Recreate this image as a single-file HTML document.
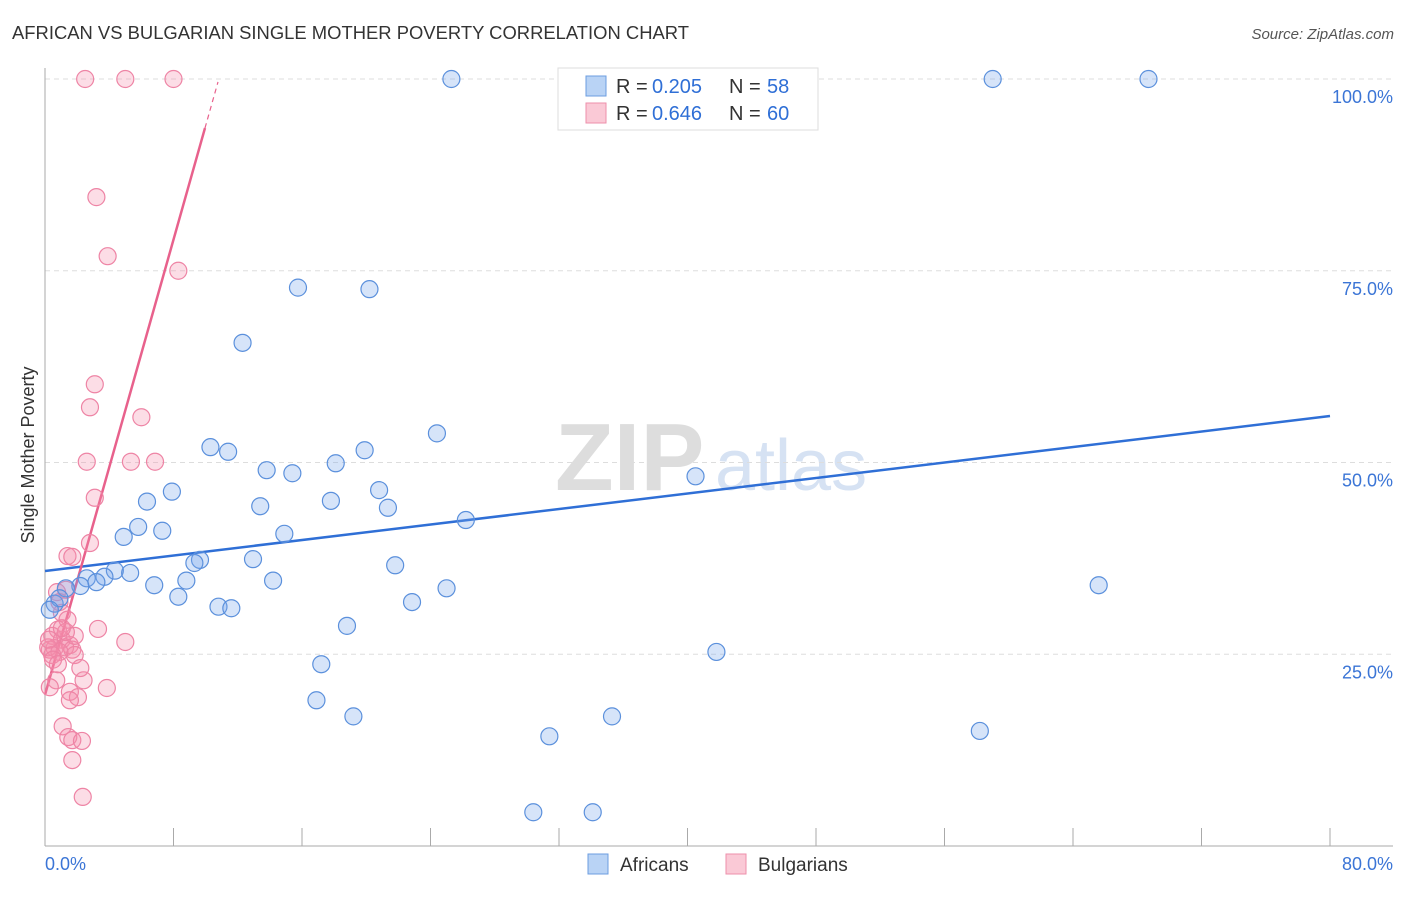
<!DOCTYPE html>
<html><head><meta charset="utf-8"><style>
body{margin:0;background:#fff;font-family:"Liberation Sans",sans-serif}
svg text{font-family:"Liberation Sans",sans-serif}
</style></head><body>
<svg width="1406" height="892" viewBox="0 0 1406 892">
<text x="12" y="39" font-size="18" fill="#333" textLength="677" lengthAdjust="spacingAndGlyphs">AFRICAN VS BULGARIAN SINGLE MOTHER POVERTY CORRELATION CHART</text>
<text x="1394" y="39" font-size="15" fill="#555" font-style="italic" text-anchor="end">Source: ZipAtlas.com</text>
<g><text x="555" y="490" font-size="96" fill="#ddd" font-family="Liberation Serif" font-weight="bold">ZIP</text><text x="715" y="490" font-size="72" fill="#d6e2f3">atlas</text></g>
<g id="grid"></g><g id="axes"></g><g id="lines"></g><g id="pts"></g>
<text x="34" y="455" font-size="18" fill="#333" transform="rotate(-90 34 455)" text-anchor="middle">Single Mother Poverty</text>
<g>
<rect x="558" y="68" width="260" height="62" fill="#fff" stroke="#ddd"/>
<rect x="586" y="76" width="20" height="20" fill="#b9d3f5" stroke="#6c9ee0"/>
<rect x="586" y="103" width="20" height="20" fill="#fac9d6" stroke="#ee8fab"/>
<text x="616" y="93" font-size="20" fill="#333">R =</text><text x="652" y="93" font-size="20" fill="#2f6fd6">0.205</text><text x="729" y="93" font-size="20" fill="#333">N =</text><text x="767" y="93" font-size="20" fill="#2f6fd6">58</text>
<text x="616" y="120" font-size="20" fill="#333">R =</text><text x="652" y="120" font-size="20" fill="#2f6fd6">0.646</text><text x="729" y="120" font-size="20" fill="#333">N =</text><text x="767" y="120" font-size="20" fill="#2f6fd6">60</text>
</g>
<g>
<rect x="588" y="854" width="20" height="20" fill="#b9d3f5" stroke="#6c9ee0"/><text x="620" y="871" font-size="19" fill="#333">Africans</text>
<rect x="726" y="854" width="20" height="20" fill="#fac9d6" stroke="#ee8fab"/><text x="758" y="871" font-size="19" fill="#333">Bulgarians</text>
</g>
</svg>
<script>
const blueX=[25.3,59.0,68.7,15.75,20.2,12.3,24.4,10.3,11.4,19.9,18.1,13.8,15.4,40.5,7.9,6.35,17.8,20.8,13.4,21.35,26.2,5.8,7.3,4.9,14.9,12.95,9.65,9.3,21.8,4.35,5.3,2.6,3.7,3.2,2.2,1.3,6.8,8.8,14.2,25.0,65.6,8.3,10.8,11.6,22.85,0.6,0.9,18.8,17.2,41.8,16.9,19.2,35.3,31.4,58.2,30.4,34.1,0.3];
const blueY=[100,100,100,72.8,72.6,65.6,53.8,52.0,51.4,51.6,49.9,49.0,48.6,48.2,46.2,44.9,45.0,46.4,44.3,44.1,42.5,41.6,41.1,40.3,40.7,37.4,37.3,36.9,36.6,35.9,35.6,34.9,35.1,34.4,33.9,33.6,34.0,34.6,34.6,33.6,34.0,32.5,31.2,31.0,31.8,31.6,32.3,28.7,23.7,25.3,19.0,16.9,16.9,14.3,15.0,4.4,4.4,30.8];
const pinkX=[2.5,5.0,8.0,3.2,3.9,8.3,3.1,2.8,6.0,2.6,5.35,6.85,3.1,2.8,1.4,1.7,1.3,0.75,0.9,1.05,0.8,3.3,5.0,0.45,1.05,1.55,0.6,0.3,0.2,1.25,1.7,1.85,0.9,0.45,0.7,2.4,0.3,3.85,1.55,2.05,1.55,1.1,1.45,1.7,2.3,1.7,2.35,1.85,1.3,0.5,0.25,0.8,1.4,1.05,2.2];
const pinkY=[100,100,100,84.6,76.9,75.0,60.2,57.2,55.9,50.1,50.1,50.1,45.4,39.5,37.8,37.7,33.4,33.1,31.8,30.4,28.2,28.3,26.6,27.4,26.9,26.2,25.8,25.6,25.9,25.9,25.6,24.9,25.3,24.9,21.6,21.6,20.7,20.6,20.1,19.4,19.0,15.6,14.2,13.8,13.7,11.2,6.4,27.4,27.9,24.3,26.9,23.7,29.5,28.4,23.2];
const yTicks=[25,50,75,100];
const blueTrend=[35.85,56.06];
const pinkTrend=[19.7,7.42];
const NS='http://www.w3.org/2000/svg';
const X=v=>45+v*1285/80, Y=v=>846-v*7.67;
function mk(tag,attrs,parent){const e=document.createElementNS(NS,tag);for(const k in attrs)e.setAttribute(k,attrs[k]);document.getElementById(parent).appendChild(e);return e;}
yTicks.forEach(t=>{
 const l=mk('line',{x1:45,x2:1393,y1:Y(t),y2:Y(t),stroke:'#ddd','stroke-dasharray':'5,4'},'grid');
 
 
 const tx=mk('text',{x:1393,y:Y(t)+24,'font-size':18,fill:'#3b75d6','text-anchor':'end'},'grid');tx.textContent=t.toFixed(1)+'%';
 
 
});
mk('line',{x1:45,x2:45,y1:68,y2:846,stroke:'#aaa'},'axes');
mk('line',{x1:45,x2:1393,y1:846,y2:846,stroke:'#aaa'},'axes');
for(let i=0;i<=10;i++){mk('line',{x1:X(i*8),x2:X(i*8),y1:828,y2:846,stroke:'#aaa'},'axes');}
let t0=mk('text',{x:45,y:870,'font-size':18,fill:'#3b75d6'},'axes');t0.textContent='0.0%';


let t1=mk('text',{x:1393,y:870,'font-size':18,fill:'#3b75d6','text-anchor':'end'},'axes');t1.textContent='80.0%';


const bl=mk('line',{x1:X(0),y1:Y(blueTrend[0]),x2:X(80),y2:Y(blueTrend[1]),stroke:'#2f6fd6','stroke-width':2.5},'lines');


const xe=9.96,xd=10.77;
const pl=mk('line',{x1:X(0),y1:Y(pinkTrend[0]),x2:X(xe),y2:Y(pinkTrend[0]+pinkTrend[1]*xe),stroke:'#e8618c','stroke-width':2.5},'lines');


mk('line',{x1:X(xe),y1:Y(pinkTrend[0]+pinkTrend[1]*xe),x2:X(xd),y2:Y(pinkTrend[0]+pinkTrend[1]*xd),stroke:'#e8618c','stroke-width':1.2,'stroke-dasharray':'5,4'},'lines');
pinkX.forEach((v,i)=>{const c=mk('circle',{cx:X(v),cy:Y(pinkY[i]),r:8.5,fill:'rgba(244,143,172,0.3)',stroke:'#ee84a5','stroke-width':1.2},'pts');

});
blueX.forEach((v,i)=>{const c=mk('circle',{cx:X(v),cy:Y(blueY[i]),r:8.5,fill:'rgba(120,165,235,0.3)',stroke:'#5b90dc','stroke-width':1.2},'pts');

});
</script>
</body></html>
